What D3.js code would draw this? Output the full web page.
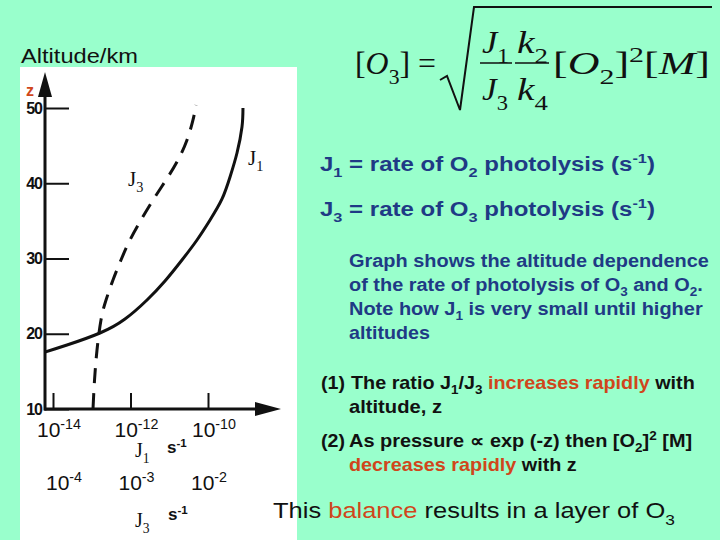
<!DOCTYPE html>
<html>
<head>
<meta charset="utf-8">
<script src="https://cdn.jsdelivr.net/npm/d3@7"></script>
<style>
  html, body { margin: 0; padding: 0; background: #99ffcc; }
  svg { display: block; }
</style>
</head>
<body>
<div id="slide"></div>
<script>
var slideWidth = 720;
var slideHeight = 540;

// Altitude (km) and photolysis rates (s-1)
var j1Altitudes = [17.57, 18.5, 20.1, 21.96, 24.49, 27.01, 29.8, 32.46, 35.12, 37.91, 40.83, 44.02, 47.47, 50];
var j1Rates = [6.2e-15, 2.3e-14, 1.63e-13, 7.21e-13, 2.67e-12, 7.76e-12, 2.13e-11, 5.2e-11, 1.13e-10, 2.3e-10, 3.7e-10, 5.6e-10, 7.53e-10, 7.99e-10];
var j3Altitudes = [10.13, 13.85, 17.84, 21.83, 24.49, 27.14, 29.8, 32.46, 35.12, 37.77, 40.43, 43.09, 45.75, 48.41, 50.4];
var j3Rates = [2.68e-4, 2.81e-4, 3.04e-4, 3.45e-4, 4.05e-4, 5.05e-4, 6.51e-4, 8.67e-4, 1.23e-3, 1.8e-3, 2.72e-3, 3.98e-3, 5.3e-3, 6.41e-3, 7.05e-3];

// Tick labels
var altTicks = [10, 20, 30, 40, 50];
var j1Ticks = [1e-14, 1e-12, 1e-10];
var j1TickExp = ["-14", "-12", "-10"];
var j3Ticks = [1e-4, 1e-3, 1e-2];
var j3TickExp = ["-4", "-3", "-2"];

var blue = "#1f3a85";
var orange = "#d0461b";
var ink = "#111111";

var svg = d3.select("#slide").append("svg")
  .attr("width", slideWidth)
  .attr("height", slideHeight);

svg.append("rect").attr("width", slideWidth).attr("height", slideHeight).attr("fill", "#99ffcc");

// text with sub/superscripts; parts = [[text, "sub"|"sup"|null, colour, fontStyle]]
function richText(parent, x, y, parts, size, weight, family, colour) {
  var t = parent.append("text")
    .attr("x", x).attr("y", y)
    .style("font-family", family)
    .style("font-size", size + "px")
    .style("font-weight", weight)
    .attr("fill", colour);
  var shift = 0;
  parts.forEach(function (p) {
    var want = p[1] == "sub" ? size * 0.3 : p[1] == "sup" ? -size * 0.38 : 0;
    var s = t.append("tspan").text(p[0]).attr("dy", want - shift);
    if (p[1]) s.style("font-size", (size * 0.68) + "px");
    if (p[2]) s.attr("fill", p[2]);
    if (p[3]) s.style("font-style", p[3]);
    shift = want;
  });
  return t;
}

// stretch the glyphs sideways so the text ends at the given right edge
function fitTo(t, right) {
  var box = t.node().getBBox();
  var x0 = box.x;
  var s = (right - x0) / box.width;
  t.attr("transform", "translate(" + x0 + ",0) scale(" + s + ",1) translate(" + (-x0) + ",0)");
  return t;
}

var sans = "Arial, 'Liberation Sans', sans-serif";
var serif = "'Times New Roman', 'Liberation Serif', serif";

// "Altitude/km"
fitTo(svg.append("text").attr("x", 21).attr("y", 63)
  .style("font-family", sans).style("font-size", "21px")
  .attr("fill", ink).text("Altitude/km"), 138);

// white graph panel
svg.append("rect").attr("x", 20).attr("y", 67).attr("width", 277).attr("height", 473).attr("fill", "#ffffff");

// scales
var yScale = d3.scaleLinear().domain([10, 50]).range([409, 108]);
var x1Scale = d3.scaleLog().domain([1e-14, 1e-10]).range([53, 208]);
var x3Scale = d3.scaleLog().domain([1e-4, 1e-2]).range([62, 207]);

var plot = svg.append("g");

svg.append("clipPath").attr("id", "plotClip")
  .append("rect").attr("x", 45).attr("y", 67).attr("width", 250).attr("height", 345);

// y axis with inward ticks
var yAxis = plot.append("g")
  .attr("transform", "translate(45,0)")
  .call(d3.axisLeft(yScale).tickValues(altTicks).tickSize(-24).tickPadding(3));
yAxis.select(".domain").remove();
yAxis.selectAll(".tick line").attr("stroke", ink).attr("stroke-width", 2);
yAxis.selectAll(".tick text")
  .style("font-family", sans).style("font-size", "16px").style("font-weight", "bold")
  .style("letter-spacing", "-1px").attr("fill", ink);

// x axis (J1) with ticks pointing up
var xAxis = plot.append("g")
  .attr("transform", "translate(0,409)")
  .call(d3.axisBottom(x1Scale).tickValues(j1Ticks).tickSize(-16).tickFormat(""));
xAxis.select(".domain").remove();
xAxis.selectAll(".tick line").attr("stroke", ink).attr("stroke-width", 2);

// axis lines and arrow heads
plot.append("line").attr("x1", 45).attr("x2", 45).attr("y1", yScale(10) + 1.5).attr("y2", 90)
  .attr("stroke", ink).attr("stroke-width", 3);
plot.append("path").attr("d", "M45,72L38,97L52,97Z").attr("fill", ink);
plot.append("line").attr("x1", 44).attr("x2", 260).attr("y1", yScale(10)).attr("y2", yScale(10))
  .attr("stroke", ink).attr("stroke-width", 3);
plot.append("path").attr("d", "M255,402L281,409L255,416Z").attr("fill", ink);

// z label
svg.append("text").attr("x", 26).attr("y", 96)
  .style("font-family", sans).style("font-size", "16px").style("font-weight", "bold")
  .attr("fill", orange).text("z");

// J1 tick labels
j1Ticks.forEach(function (v, i) {
  richText(svg, x1Scale(v) + 6, 437, [["10"], [j1TickExp[i], "sup"]], 21, "normal", sans, ink)
    .attr("text-anchor", "middle");
});
richText(svg, 135, 457, [["J"], ["1", "sub"]], 20, "normal", serif, ink);
richText(svg, 167, 453, [["s"], ["-1", "sup"]], 17, "bold", sans, ink);

// J3 tick labels
j3Ticks.forEach(function (v, i) {
  richText(svg, x3Scale(v) + 2, 490, [["10"], [j3TickExp[i], "sup"]], 21, "normal", sans, ink)
    .attr("text-anchor", "middle");
});
richText(svg, 135, 527, [["J"], ["3", "sub"]], 20, "normal", serif, ink);
richText(svg, 168, 520, [["s"], ["-1", "sup"]], 17, "bold", sans, ink);

// curves
var j1Points = j1Altitudes.map(function (a, i) { return [x1Scale(j1Rates[i]), yScale(a)]; });
var j3Points = j3Altitudes.map(function (a, i) { return [x3Scale(j3Rates[i]), yScale(a)]; });
var curve = d3.line().curve(d3.curveNatural);

plot.append("path").attr("d", curve(j1Points))
  .attr("clip-path", "url(#plotClip)")
  .attr("fill", "none").attr("stroke", ink).attr("stroke-width", 3);
plot.append("path").attr("d", curve(j3Points))
  .attr("fill", "none").attr("stroke", ink).attr("stroke-width", 3)
  .attr("stroke-dasharray", "15,10");

// curve labels
richText(svg, 128, 186, [["J"], ["3", "sub"]], 21, "normal", serif, ink);
richText(svg, 248, 165, [["J"], ["1", "sub"]], 21, "normal", serif, ink);

// formula
var fx = svg.append("g");
fitTo(richText(fx, 355, 74, [["["], ["O", null, null, "italic"], ["3", "sub"], ["]"], [" ="]], 32, "normal", serif, ink), 436);
fx.append("path").attr("d", "M440,80L447,76L460,110L474,7L712,7")
  .attr("fill", "none").attr("stroke", ink).attr("stroke-width", 2);
fx.append("line").attr("x1", 480).attr("x2", 512).attr("y1", 63).attr("y2", 63).attr("stroke", ink).attr("stroke-width", 1.5);
fx.append("line").attr("x1", 515).attr("x2", 549).attr("y1", 63).attr("y2", 63).attr("stroke", ink).attr("stroke-width", 1.5);
fitTo(richText(fx, 482, 53, [["J", null, null, "italic"], ["1", "sub"]], 32, "normal", serif, ink), 509);
fitTo(richText(fx, 482, 100, [["J", null, null, "italic"], ["3", "sub"]], 32, "normal", serif, ink), 508);
fitTo(richText(fx, 517, 53, [["k", null, null, "italic"], ["2", "sub"]], 32, "normal", serif, ink), 548);
fitTo(richText(fx, 517, 100, [["k", null, null, "italic"], ["4", "sub"]], 32, "normal", serif, ink), 548);
fitTo(richText(fx, 553, 74, [["["], ["O", null, null, "italic"], ["2", "sub"], ["]"], ["2", "sup"], ["["], ["M", null, null, "italic"], ["]"]], 32, "normal", serif, ink), 710);

// explanatory text
fitTo(richText(svg, 320, 171, [["J"], ["1", "sub"], [" = rate of O"], ["2", "sub"], [" photolysis (s"], ["-1", "sup"], [")"]], 20, "bold", sans, blue), 655);
fitTo(richText(svg, 320, 216, [["J"], ["3", "sub"], [" = rate of O"], ["3", "sub"], [" photolysis (s"], ["-1", "sup"], [")"]], 20, "bold", sans, blue), 655);

fitTo(richText(svg, 349, 267, [["Graph shows the altitude dependence"]], 18, "bold", sans, blue), 709);
fitTo(richText(svg, 349, 291, [["of the rate of photolysis of O"], ["3", "sub"], [" and O"], ["2", "sub"], ["."]], 18, "bold", sans, blue), 703);
fitTo(richText(svg, 349, 315, [["Note how J"], ["1", "sub"], [" is very small until higher"]], 18, "bold", sans, blue), 703);
fitTo(richText(svg, 349, 339, [["altitudes"]], 18, "bold", sans, blue), 430);

fitTo(richText(svg, 321, 389, [["(1)"]], 18, "bold", sans, ink), 345);
fitTo(richText(svg, 351, 389, [["The ratio J"], ["1", "sub"], ["/J"], ["3", "sub"], [" "], ["increases rapidly", null, orange], [" with"]], 18, "bold", sans, ink), 695);
fitTo(richText(svg, 349, 413, [["altitude, z"]], 18, "bold", sans, ink), 442);
fitTo(richText(svg, 321, 447, [["(2)"]], 18, "bold", sans, ink), 345);
fitTo(richText(svg, 349, 447, [["As pressure \u221d exp (-z) then [O"], ["2", "sub"], ["]"], ["2", "sup"], [" [M]"]], 18, "bold", sans, ink), 692);
fitTo(richText(svg, 349, 471, [["decreases rapidly", null, orange], [" with z"]], 18, "bold", sans, ink), 577);

fitTo(richText(svg, 273, 518, [["This "], ["balance", null, orange], [" results in a layer of O"], ["3", "sub"]], 22, "normal", sans, ink), 675);
</script>
</body>
</html>
